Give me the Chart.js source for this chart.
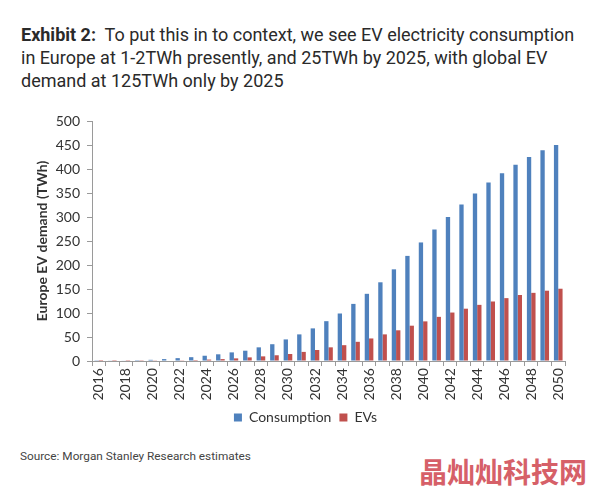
<!DOCTYPE html>
<html>
<head>
<meta charset="utf-8">
<script src="https://cdn.jsdelivr.net/npm/chart.js@4"></script>
<style>
  body { margin: 0; background: #fff; }
  #page { position: relative; width: 594px; height: 495px; overflow: hidden; background: #fff; }
  #title {
    position: absolute; left: 21px; top: 23px; width: 570px;
    font-family: Roboto, sans-serif; font-size: 18px; line-height: 23px; color: #2a2a2a;
    white-space: nowrap;
  }
  #title b { font-weight: bold; }
  #chartBox { position: absolute; left: 0; top: 100px; width: 594px; height: 345px; }
  #source {
    position: absolute; left: 20px; top: 449px;
    font-family: Roboto, sans-serif; font-size: 11.8px; color: #444;
  }
  #mark {
    position: absolute; left: 419px; top: 451px;
    font-family: "Noto Sans CJK SC", sans-serif; font-size: 28px; font-weight: bold;
    color: rgb(214, 96, 104);
  }
</style>
</head>
<body>
<div id="page">
  <div id="title"><b>Exhibit 2:</b>&nbsp; To put this in to context, we see EV electricity consumption<br>in Europe at 1-2TWh presently, and 25TWh by 2025, with global EV<br>demand at 125TWh only by 2025</div>
  <div id="chartBox"><canvas id="chart" width="594" height="345"></canvas></div>
  <div id="source">Source: Morgan Stanley Research estimates</div>
  <div id="mark">晶灿灿科技网</div>
</div>
<script>
// years on the x axis
const years = ['2016', '2017', '2018', '2019', '2020', '2021', '2022', '2023', '2024', '2025',
  '2026', '2027', '2028', '2029', '2030', '2031', '2032', '2033', '2034', '2035',
  '2036', '2037', '2038', '2039', '2040', '2041', '2042', '2043', '2044', '2045',
  '2046', '2047', '2048', '2049', '2050'];

// TWh
const consumption = [0.5, 0.8, 1.2, 1.8, 2.5, 4, 6, 8, 11, 14,
  18, 21.5, 28.5, 35, 45, 55.5, 68, 83, 99, 119,
  140, 164, 191, 219, 247, 274, 300, 326, 349, 372,
  391, 409, 425, 439, 450];

const evs = [0.1, 0.2, 0.3, 0.4, 0.6, 1, 1.5, 2, 3, 4,
  5.5, 7.6, 9.7, 12, 14.6, 19, 23, 28.5, 33, 40,
  47, 55.5, 64, 73.6, 82.6, 92, 101, 109, 117, 124,
  131, 137.5, 142, 146.5, 150.6];

const yTicks = [0, 50, 100, 150, 200, 250, 300, 350, 400, 450, 500];

const axisColor = '#9a9a9a';
const textColor = '#333';

new Chart(document.getElementById('chart'), {
  type: 'bar',
  data: {
    labels: years,
    datasets: [
      { label: 'Consumption', data: consumption, backgroundColor: '#4F81BD', borderWidth: 0 },
      { label: 'EVs', data: evs, backgroundColor: '#C0504D', borderWidth: 0 }
    ]
  },
  options: {
    responsive: false,
    animation: false,
    datasets: { bar: { categoryPercentage: 0.64, barPercentage: 1 } },
    // left padding keeps the legend centred where the original has it
    layout: { padding: { top: 21, right: 29, bottom: 10.5, left: 46 } },
    plugins: {
      tooltip: { enabled: false },
      legend: {
        position: 'bottom',
        labels: {
          boxWidth: 8, boxHeight: 8, padding: 8,
          color: textColor,
          font: { family: 'Lato', size: 14 }
        }
      }
    },
    scales: {
      x: {
        grid: { display: true, drawOnChartArea: false, drawTicks: true, tickLength: 5, color: axisColor, offset: true },
        border: { color: axisColor },
        ticks: {
          autoSkip: false, minRotation: 90, maxRotation: 90, padding: 2,
          color: textColor, font: { family: 'Lato', size: 14 },
          callback: function(value, index) {
            return index % 2 === 0 ? this.getLabelForValue(value) : '';
          }
        }
      },
      y: {
        min: 0, max: 500,
        afterBuildTicks: function(scale) {
          scale.ticks = yTicks.map(v => ({ value: v }));
        },
        afterFit: function(scale) { scale.width = 46; },
        grid: { display: true, drawOnChartArea: false, drawTicks: true, tickLength: 5, color: axisColor },
        border: { color: axisColor },
        ticks: { padding: 7, color: textColor, font: { family: 'Lato', size: 14 } },
        title: {
          display: true, text: 'Europe EV demand (TWh)',
          color: textColor, font: { family: 'Lato', size: 14, weight: 'bold' },
          padding: { top: -12.4, bottom: 0 }
        }
      }
    }
  }
});
</script>
</body>
</html>
